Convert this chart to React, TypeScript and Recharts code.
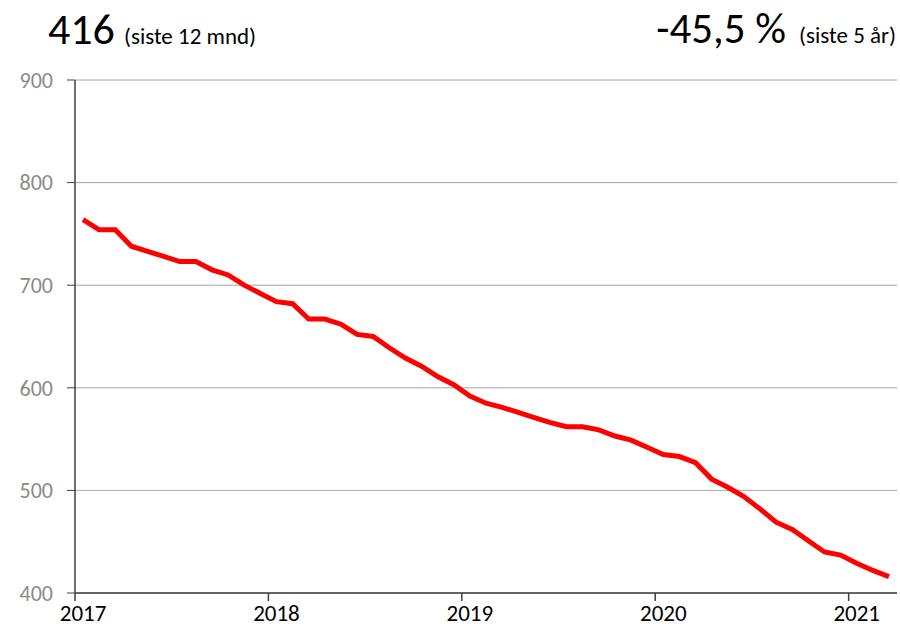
import React from "react";
import { LineChart, Line, XAxis, YAxis, CartesianGrid } from "recharts";

const months: string[] = [];
for (let y = 2017; y <= 2021; y++) {
    for (let m = 1; m <= 12; m++) {
        if (y === 2021 && m > 3) break;
        months.push(`${y}-${String(m).padStart(2, "0")}`);
    }
}

const values = [
    764, 754, 754, 738, 733, 728, 723, 723, 715, 710, 700, 692,
    684, 682, 667, 667, 662, 652, 650, 639, 629, 621, 611, 603,
    592, 585, 581, 576, 571, 566, 562, 562, 559, 553, 549, 542,
    535, 533, 527, 511, 503, 494, 482, 469, 462, 451, 440, 437,
    429, 422, 416,
];

const yTicks = [400, 500, 600, 700, 800, 900];

const data = months.map((month, i) => ({ month, value: values[i] }));

const FONT = "Carlito, 'Liberation Sans Narrow', 'Open Sans', sans-serif";
const PLOT_LEFT = 75;
const PLOT_RIGHT = 897;
const BAND = (PLOT_RIGHT - PLOT_LEFT) / months.length;

function YearTick(props: any) {
    const { x, y, payload } = props;
    return (
        <g>
            <line x1={x - BAND / 2} x2={x - BAND / 2} y1={y} y2={y + 8} stroke="#404040" strokeWidth={1.5} />
            <text x={x} y={y + 28} textAnchor="middle" fontSize={23} fill="#000" fontFamily={FONT}>
                {String(payload.value).slice(0, 4)}
            </text>
        </g>
    );
}

export default function App() {
    return (
        <div style={{ position: "absolute", left: 0, top: 0, width: 900, height: 631, background: "#fff", fontFamily: FONT }}>
            <div style={{ position: "absolute", left: 48, top: 2, whiteSpace: "nowrap" }}>
                <span style={{ fontSize: 44, color: "#000" }}>416</span>
                <span style={{ fontSize: 23, color: "#000", marginLeft: 9 }}>(siste 12 mnd)</span>
            </div>
            <div style={{ position: "absolute", right: 4, top: 2, whiteSpace: "nowrap" }}>
                <span style={{ fontSize: 43, color: "#000" }}>-45,5 %</span>
                <span style={{ fontSize: 23, color: "#000", marginLeft: 13 }}>(siste 5 år)</span>
            </div>
            <LineChart
                width={900}
                height={631}
                data={data}
                margin={{ top: 80, right: 900 - PLOT_RIGHT, bottom: 0, left: 25 }}
            >
                <CartesianGrid vertical={false} stroke="#a6a6a6" strokeWidth={1} />
                <XAxis
                    dataKey="month"
                    scale="band"
                    interval={11}
                    height={38}
                    tickSize={0}
                    tickMargin={0}
                    tickLine={false}
                    axisLine={{ stroke: "#404040", strokeWidth: 1.5 }}
                    tick={<YearTick />}
                />
                <YAxis
                    domain={[400, 900]}
                    ticks={yTicks}
                    width={50}
                    tickSize={8}
                    tickMargin={14}
                    axisLine={{ stroke: "#404040", strokeWidth: 1.5 }}
                    tickLine={{ stroke: "#404040" }}
                    tick={{ fill: "#8a8a8a", fontSize: 22, fontFamily: FONT }}
                />
                <Line
                    type="linear"
                    dataKey="value"
                    stroke="#ff0000"
                    strokeWidth={5}
                    dot={false}
                    isAnimationActive={false}
                />
            </LineChart>
        </div>
    );
}
